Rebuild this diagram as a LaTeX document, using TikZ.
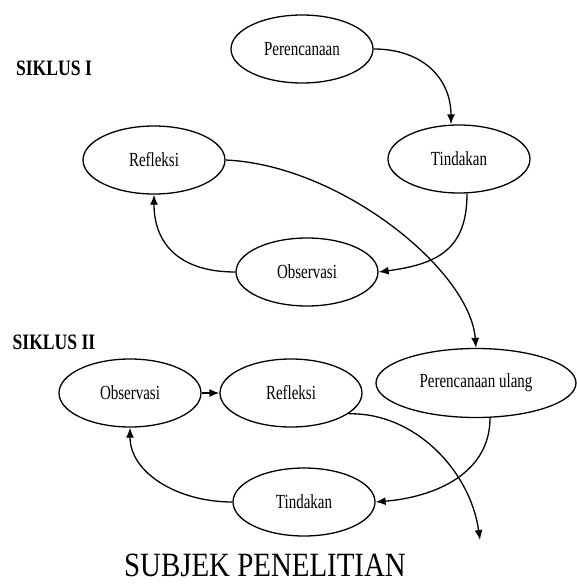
\documentclass[tikz,border=0pt]{standalone}
\usepackage{fontspec}
\setmainfont{Liberation Serif}
\newfontfamily\cellfont[FakeStretch=0.75]{Liberation Serif}
\newfontfamily\headfont[FakeStretch=0.8]{Liberation Serif}
\newfontfamily\titlefont[FakeStretch=0.85]{Liberation Serif}
\usetikzlibrary{arrows.meta, shapes.geometric}

\begin{document}
\begin{tikzpicture}[x=1pt, y=-1pt,
  ell/.style={draw, ellipse, line width=1.3pt, inner sep=0pt, minimum width=142pt, minimum height=68pt,
    font=\cellfont\fontsize{20}{22}\selectfont},
  wideell/.style={ell, minimum width=200pt, minimum height=69pt},
  head/.style={font=\headfont\bfseries\fontsize{22}{24}\selectfont},
  a/.style={-{Latex[length=10pt, width=8pt]}, line width=1.3pt, draw=black}]
  \useasboundingbox (0,0) rectangle (577,587);
  % siklus I
  \node[head] (s1) at (54,68) {SIKLUS I};
  \node[ell] (p1) at (302,49) {Perencanaan};
  \node[ell] (t1) at (459,159) {Tindakan};
  \node[ell] (r1) at (154,160) {Refleksi};
  \node[ell] (o1) at (307,272) {Observasi};
  % siklus II
  \node[head] (s2) at (54,342) {SIKLUS II};
  \node[ell] (o2) at (130,393) {Observasi};
  \node[ell] (r2) at (291,393) {Refleksi};
  \node[wideell] (pu) at (476,383) {Perencanaan ulang};
  \node[ell] (t2) at (304,502) {Tindakan};
  \coordinate (end) at (480,540);
  \node[font=\titlefont\fontsize{34}{36}\selectfont, inner sep=0pt] (subj) at (265,565) {SUBJEK PENELITIAN};
  \draw[a] (p1.east) .. controls +(50,0) and +(0,-45) .. ([xshift=-8pt]t1.north);
  \draw[a] ([xshift=8pt]t1.south) .. controls +(0,55) and +(60,-8) .. (o1.east);
  \draw[a] (o1.west) .. controls +(-55,0) and +(0,50) .. (r1.south);
  % the long one: refleksi I drops into the new plan
  \draw[a] (r1.east) .. controls (340,165) and (470,270) .. (pu.north);
  \draw[a] (o2) -- (r2);
  \draw[a] ([xshift=14pt]pu.south) .. controls +(0,55) and +(60,-5) .. (t2.east);
  \draw[a] (t2.west) .. controls +(-55,0) and +(0,45) .. (o2.south);
  \draw[a] (r2.-20) .. controls (414,412) and (470,470) .. (end);
\end{tikzpicture}
\end{document}
